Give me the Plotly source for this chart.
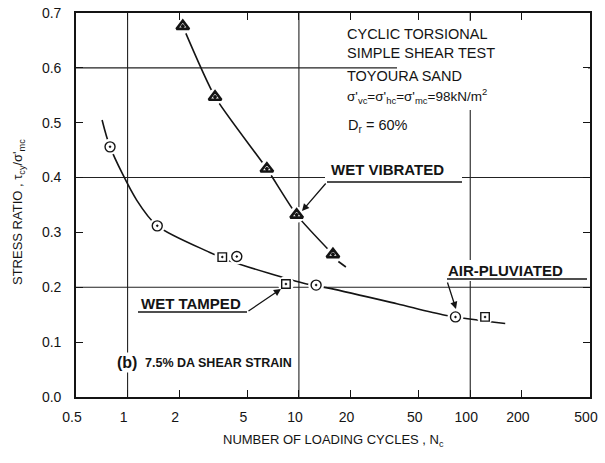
import math
import plotly.graph_objects as go

# ---------------- data ----------------
# wet vibrated (triangles)
vib_n = [2.1, 3.24, 6.5, 9.7, 15.8]
vib_r = [0.676, 0.547, 0.416, 0.332, 0.260]
# air-pluviated (circles)
air_n = [0.79, 1.49, 4.34, 12.6, 82.0]
air_r = [0.456, 0.312, 0.256, 0.204, 0.146]
# wet tamped (squares)
tam_n = [3.57, 8.4, 122.0]
tam_r = [0.255, 0.206, 0.146]
# fitted curve through vibrated data, plus its dashed tail
vib_curve_n = [2.1, 3.24, 6.5, 9.7, 15.8]
vib_curve_r = [0.676, 0.547, 0.416, 0.332, 0.260]
vib_tail_n = [17.0, 18.8]
vib_tail_r = [0.247, 0.237]
# fitted curve through air-pluviated / wet tamped data
low_curve_n = [0.71, 0.79, 1.13, 1.49, 3.0, 3.96, 11.1, 15.2, 37.3, 71.3, 160.0]
low_curve_r = [0.505, 0.456, 0.359, 0.312, 0.264, 0.248, 0.206, 0.198, 0.170, 0.149, 0.134]

x_ticks = [0.5, 1, 2, 5, 10, 20, 50, 100, 200, 500]
x_ticktext = ["0.5", "1", "2", "5", "10", "20", "50", "100", "200", "500"]
y_ticks = [0.0, 0.1, 0.2, 0.3, 0.4, 0.5, 0.6, 0.7]
x_grid = [1, 10, 100]
y_grid = [0.2, 0.4, 0.6]

# ---------------- layout geometry ----------------
W, H = 605, 463
L, R, T, B = 76, 15, 13, 66
PW, PH = W - L - R, H - T - B


def px(x):
    return (x - L) / PW


def py(y):
    return (H - B - y) / PH


FONT = "Liberation Sans, Arial, Helvetica, sans-serif"
INK = "#141414"

fig = go.Figure()

fig.add_trace(go.Scatter(x=low_curve_n, y=low_curve_r, mode="lines",
                         line=dict(color=INK, width=1.6, shape="spline", smoothing=0.8),
                         hoverinfo="skip", showlegend=False))
fig.add_trace(go.Scatter(x=vib_curve_n, y=vib_curve_r, mode="lines",
                         line=dict(color=INK, width=1.6, shape="spline", smoothing=0.6),
                         hoverinfo="skip", showlegend=False))
fig.add_trace(go.Scatter(x=vib_tail_n, y=vib_tail_r, mode="lines",
                         line=dict(color=INK, width=1.6),
                         hoverinfo="skip", showlegend=False))

# white halos that break the curves and gridlines around each symbol
all_n = vib_n + air_n + tam_n
all_r = vib_r + air_r + tam_r
fig.add_trace(go.Scatter(x=all_n, y=all_r, mode="markers",
                         marker=dict(symbol="circle", size=16, color="white", line=dict(width=0)),
                         hoverinfo="skip", showlegend=False))

fig.add_trace(go.Scatter(x=vib_n, y=vib_r, mode="markers", name="Wet vibrated",
                         marker=dict(symbol="triangle-up-open-dot", size=11,
                                     color=INK, line=dict(color=INK, width=2.6)),
                         showlegend=False))
fig.add_trace(go.Scatter(x=air_n, y=air_r, mode="markers", name="Air-pluviated",
                         marker=dict(symbol="circle-open-dot", size=10,
                                     color=INK, line=dict(color=INK, width=1.4)),
                         showlegend=False))
fig.add_trace(go.Scatter(x=tam_n, y=tam_r, mode="markers", name="Wet tamped",
                         marker=dict(symbol="square-open-dot", size=8.5,
                                     color=INK, line=dict(color=INK, width=1.4)),
                         showlegend=False))

shapes = []
for g in x_grid:
    shapes.append(dict(type="line", xref="x", yref="paper", x0=g, x1=g, y0=0, y1=1,
                       line=dict(color="#222", width=1.1), layer="below"))
for g in y_grid:
    shapes.append(dict(type="line", xref="paper", yref="y", x0=0, x1=1, y0=g, y1=g,
                       line=dict(color="#222", width=1.1), layer="below"))

# white masks under the text block and labels
def mask(x0, y0, x1, y1):
    shapes.append(dict(type="rect", xref="paper", yref="paper",
                       x0=px(x0), x1=px(x1), y0=py(y1), y1=py(y0),
                       fillcolor="white", line=dict(width=0), layer="below"))

mask(397, 21, 588, 110)
mask(325, 158, 462, 180)
mask(444, 260, 582, 281)


def seg(x0, y0, x1, y1, w=1.4):
    shapes.append(dict(type="line", xref="paper", yref="paper",
                       x0=px(x0), x1=px(x1), y0=py(y0), y1=py(y1),
                       line=dict(color=INK, width=w), layer="above"))

# leader underlines
seg(327, 182, 462, 182)
seg(138, 312, 247, 312)
seg(447, 279, 587, 279)

annotations = []


def text(s, x, y, size=14, bold=False, bg=None, anchor="left"):
    if bold:
        s = "<b>" + s + "</b>"
    a = dict(text=s, xref="paper", yref="paper", x=px(x), y=py(y),
             xanchor=anchor, yanchor="middle", showarrow=False,
             font=dict(family=FONT, size=size, color=INK))
    if bg:
        a["bgcolor"] = bg
        a["borderpad"] = 1
    annotations.append(a)


text("CYCLIC TORSIONAL", 345, 34, 14.5)
text("SIMPLE SHEAR TEST", 345, 53, 14.5)
text("TOYOURA SAND", 345, 76, 14.5)
text("σ'<sub>vc</sub>=σ'<sub>hc</sub>=σ'<sub>mc</sub>=98kN/m<sup>2</sup>", 345, 96, 13.5)
text("D<sub>r</sub> = 60%", 346, 126, 14.5)
text("WET VIBRATED", 329, 169, 15, bold=True)
text("WET TAMPED", 139, 303, 15, bold=True)
text("AIR-PLUVIATED", 446, 270, 15, bold=True)
text("(b)", 115, 362, 16, bold=True, bg="white")
text("7.5% DA SHEAR STRAIN", 143, 363, 12.5, bold=True, bg="white")


def arrow(x_tail, y_tail, x_head, y_head):
    annotations.append(dict(xref="paper", yref="paper", axref="pixel", ayref="pixel",
                            x=px(x_head), y=py(y_head),
                            ax=x_tail - x_head, ay=y_tail - y_head,
                            text="", showarrow=True, arrowhead=2, arrowsize=1.1,
                            arrowwidth=1.3, arrowcolor=INK, standoff=0))

arrow(327, 182, 302, 211)
arrow(247, 312, 281, 289)
arrow(447, 281, 456, 309)

# axis titles placed as text at their reference positions
annotations.append(dict(text="NUMBER OF LOADING CYCLES , N<sub>c</sub>", xref="paper", yref="paper",
                        x=px(333), y=py(440), xanchor="center", yanchor="middle", showarrow=False,
                        font=dict(family=FONT, size=13, color=INK)))
annotations.append(dict(text="STRESS RATIO , τ<sub>cy</sub>/σ'<sub>mc</sub>", xref="paper", yref="paper",
                        x=px(18), y=py(212), xanchor="center", yanchor="middle", showarrow=False,
                        textangle=-90, font=dict(family=FONT, size=13, color=INK)))

axis_common = dict(showline=True, linecolor=INK, linewidth=1.6, mirror="allticks",
                   ticks="inside", ticklen=7, tickwidth=1.3, tickcolor=INK,
                   showgrid=False, zeroline=False, automargin=False,
                   tickfont=dict(family=FONT, size=14, color=INK))

fig.update_layout(
    width=W, height=H,
    margin=dict(l=L, r=R, t=T, b=B, autoexpand=False),
    paper_bgcolor="white", plot_bgcolor="white",
    shapes=shapes, annotations=annotations,
    xaxis=dict(type="log", range=[math.log10(0.5), math.log10(500)],
               tickmode="array", tickvals=x_ticks, ticktext=x_ticktext,
               ticklabelstandoff=6, ticklabelshift=-4,
               **axis_common),
    yaxis=dict(range=[0, 0.7], tickmode="array", tickvals=y_ticks, tickformat=".1f",
               ticklabelstandoff=10,
               **axis_common),
)

fig.write_html("out.html", config={"displayModeBar": False},
               post_script="document.body.style.margin='0';document.body.style.overflow='hidden';")
